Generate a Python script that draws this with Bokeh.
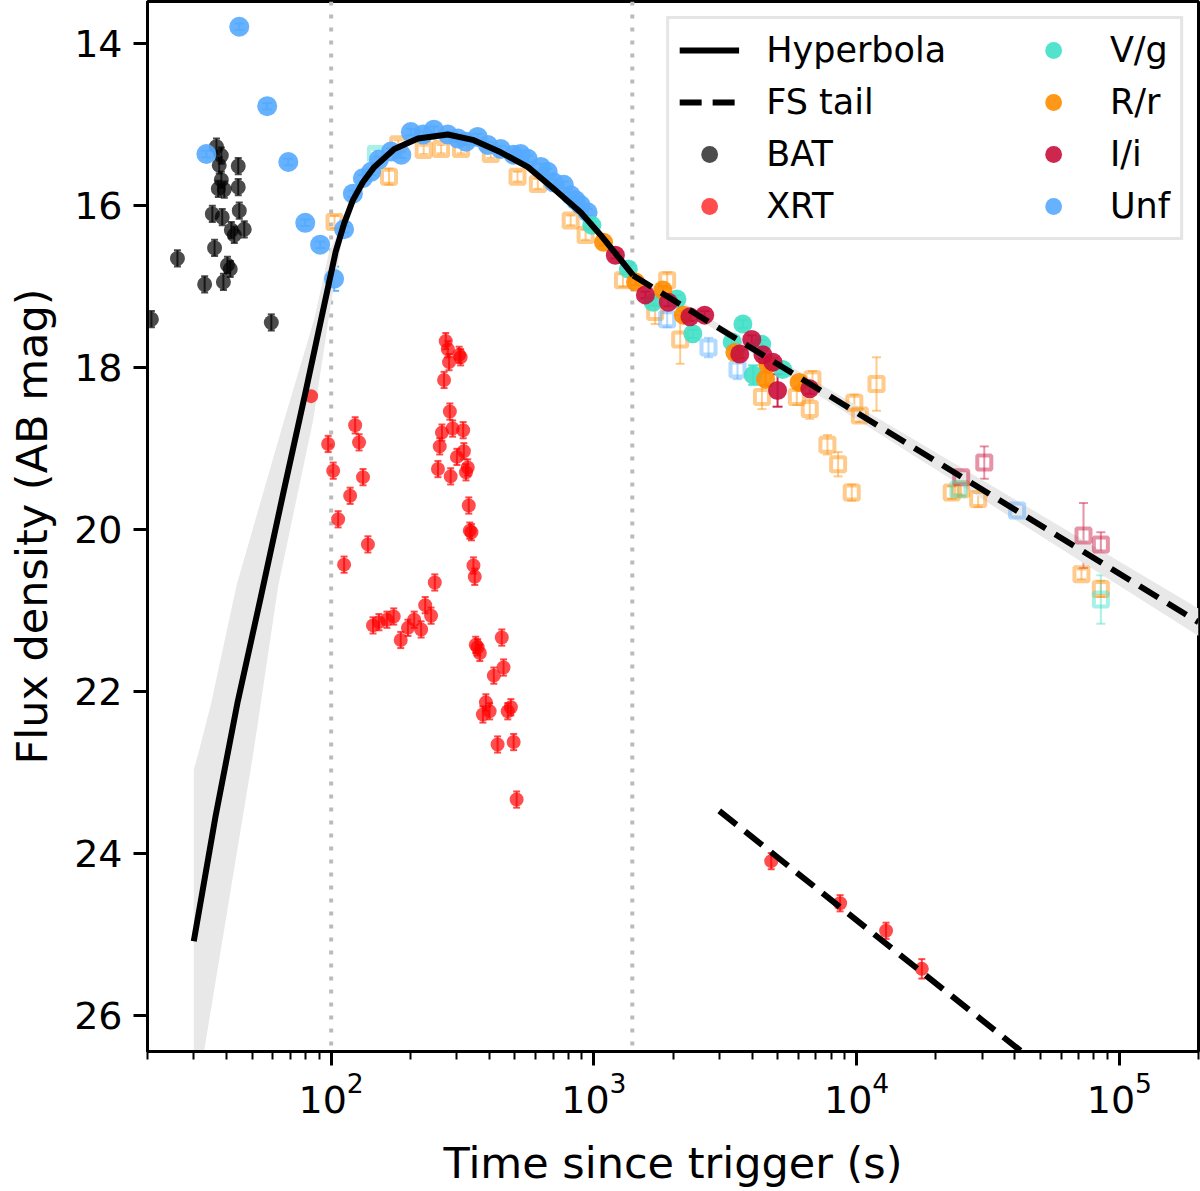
from bokeh.plotting import figure
from bokeh.models import (Range1d, FixedTicker, Span, Whisker, TeeHead, ColumnDataSource,
                          Legend, LegendItem)
from bokeh.embed import file_html
from bokeh.resources import INLINE

# ---------------- data ----------------
bat_t = [20.7, 26.0, 33.0, 35.3, 36.0, 36.6, 37.2, 37.5, 38.2, 38.2, 38.5, 38.9, 39.2, 40.3,
         41.3, 41.7, 42.8, 44.3, 44.3, 44.7, 46.7, 59.2]
bat_m = [17.40, 16.65, 16.97, 16.10, 16.52, 15.27, 15.79, 15.50, 15.38, 15.68, 16.14, 16.94,
         15.80, 16.73, 16.78, 16.30, 16.36, 15.51, 15.77, 16.06, 16.29, 17.44]
bat_e = [0.1] * len(bat_t)

xrt_t = [83.9, 97.4, 101.8, 106.3, 112, 118.1, 123.4, 127.7, 132.2, 138, 144.3, 152, 163, 173,
         184, 196, 207, 220, 228, 240, 248, 255, 259, 264, 269, 273, 278, 281, 283, 285, 290,
         301, 307, 311, 318, 320, 326, 331, 334, 337, 342, 348, 352, 355, 361, 368, 378, 388,
         401, 416, 430, 446, 453, 470, 483, 495, 508,
         4730, 8650, 12940, 17700]
xrt_m = [18.35, 18.94, 19.27, 19.87, 20.43, 19.58, 18.71, 18.92, 19.35, 20.18, 21.18, 21.14,
         21.11, 21.07, 21.36, 21.21, 21.11, 21.23, 20.93, 21.06, 20.65, 19.25, 18.97, 18.80,
         18.15, 17.67, 17.77, 17.93, 18.54, 19.34, 18.75, 19.10, 17.84, 17.87, 18.77, 19.03,
         19.29, 19.23, 19.70, 20.01, 20.03, 20.44, 20.58, 21.42, 21.45, 21.52, 22.28, 22.13,
         22.24, 21.80, 22.65, 21.33, 21.70, 22.24, 22.19, 22.62, 23.33,
         24.09, 24.61, 24.95, 25.42]
xrt_e = [0.1] * (len(xrt_t) - 1) + [0.12]

unf_t = [44.7, 57.1, 33.5, 68.7, 79.7, 90.8, 102.6, 112, 121, 132, 142, 152, 169, 185, 201,
         224, 246, 278, 304, 326, 361, 395, 442, 495, 526, 560, 628, 667, 703, 768, 816, 852,
         890, 946]
unf_m = [13.79, 14.77, 15.36, 15.46, 16.21, 16.48, 16.90, 16.29, 15.85, 15.66, 15.58, 15.43,
         15.33, 15.37, 15.09, 15.12, 15.06, 15.12, 15.17, 15.21, 15.15, 15.25, 15.30, 15.37,
         15.36, 15.42, 15.52, 15.58, 15.71, 15.74, 15.87, 15.93, 15.99, 16.08]
unf_e = [0.04] * 6 + [0.15] + [0.04] * 27

vg_t = [982, 1352, 1680, 2070, 2380, 3360, 3690, 4040, 4350, 5230]
vg_m = [16.24, 16.78, 17.19, 17.15, 17.58, 17.68, 17.46, 18.09, 17.71, 18.02]
vg_e = [0.04, 0.04, 0.05, 0.05, 0.05, 0.05, 0.05, 0.12, 0.05, 0.06]

rr_t = [1088, 1440, 1830, 2190, 3440, 4500, 4590, 6040]
rr_m = [16.45, 16.94, 17.04, 17.35, 17.81, 18.14, 17.96, 18.18]
rr_e = [0.04, 0.04, 0.05, 0.05, 0.05, 0.08, 0.05, 0.06]

ii_t = [1207, 1570, 1920, 2320, 2640, 3590, 3990, 4400, 4800, 5000, 6630]
ii_m = [16.61, 17.10, 17.19, 17.37, 17.35, 17.83, 17.65, 17.84, 17.93, 18.28, 18.26]
ii_e = [0.04, 0.04, 0.05, 0.05, 0.05, 0.05, 0.05, 0.05, 0.05, 0.2, 0.06]

# secondary (open squares)
rr2_t = [103, 166, 180, 225, 262, 312, 405, 512, 612, 816, 930, 1290, 1710, 1900, 2130, 4360,
         5920, 6630, 6790, 7740, 8500, 9580, 9800, 10280, 11900, 23000, 25000, 29000, 71700,
         85000]
rr2_m = [16.20, 15.64, 15.24, 15.31, 15.30, 15.30, 15.36, 15.64, 15.73, 16.18, 16.36, 16.92,
         17.31, 16.92, 17.65, 18.36, 18.36, 18.51, 18.14, 18.95, 19.19, 19.54, 18.43, 18.59,
         18.20, 19.54, 19.50, 19.62, 20.55, 20.73]
rr2_e = [0.08, 0.1, 0.05, 0.05, 0.05, 0.05, 0.05, 0.06, 0.06, 0.06, 0.06, 0.08, 0.15, 0.1,
         0.3, 0.15, 0.1, 0.12, 0.1, 0.12, 0.15, 0.1, 0.1, 0.08, 0.33, 0.08, 0.08, 0.1, 0.06,
         0.1]
ii2_t = [25000, 30600, 73000, 85000]
ii2_m = [19.35, 19.17, 20.07, 20.18]
ii2_e = [0.05, 0.2, 0.4, 0.15]
vg2_t = [148, 24400, 85000]
vg2_m = [15.36, 19.50, 20.86]
vg2_e = [0.05, 0.06, 0.3]
unf2_t = [1900, 2730, 3520, 40800]
unf2_m = [17.40, 17.75, 18.02, 19.76]
unf2_e = [0.1, 0.12, 0.12, 0.05]

# model curves
hyp_t = [30, 36.3, 44.1, 53.9, 65.9, 80.0, 91.2, 104.0, 112, 121, 132, 146, 174, 214, 278,
         349, 442, 560, 703, 890, 1060, 1260, 1410]
hyp_m = [25.08, 23.54, 22.12, 20.84, 19.53, 18.29, 17.43, 16.57, 16.22, 15.93, 15.71, 15.52,
         15.30, 15.17, 15.12, 15.19, 15.34, 15.52, 15.79, 16.08, 16.36, 16.66, 16.86]
hyp_band_hi_t = [30, 31.3, 35, 43.6, 66.3, 86.2, 98.2, 112]
hyp_band_hi_m = [22.96, 22.75, 22.13, 20.69, 18.64, 17.40, 16.57, 16.18]
hyp_band_lo_t = [30, 32.9, 50.6, 62.9, 85.5, 100, 112]
hyp_band_lo_m = [27.5, 26.42, 22.75, 20.69, 18.64, 17.19, 16.28]

fs_t = [1410, 200000]
fs_m = [16.86, 21.14]
fs_band_t = [1410, 200000, 200000, 1410]
fs_band_m = [16.83, 20.97, 21.31, 16.89]

xfs_t = [3000, 200000]
xfs_m = [23.47, 28.18]

vlines_t = [100, 1400]

legend_labels = ["Hyperbola", "FS tail", "BAT", "XRT", "V/g", "R/r", "I/i", "Unf"]

x_major = [1e2, 1e3, 1e4, 1e5]
x_minor = [k * 10 ** d for d in range(1, 6) for k in range(2, 10) if 20 <= k * 10 ** d <= 2e5]
y_ticks = [14, 16, 18, 20, 22, 24, 26]

# ---------------- figure ----------------
FONT = "DejaVu Sans"
p = figure(width=1200, height=1191, x_axis_type="log",
           x_range=Range1d(20, 2e5), y_range=Range1d(26.44, 13.478),
           output_backend="svg", toolbar_location=None,
           min_border_left=147, min_border_right=2, min_border_top=1, min_border_bottom=140)
p.xgrid.visible = False
p.ygrid.visible = False
p.outline_line_color = "black"
p.outline_line_width = 3
p.outline_line_alpha = 1.0
p.background_fill_color = "white"

for ax in (p.xaxis[0], p.yaxis[0]):
    ax.axis_line_width = 3
    ax.major_tick_line_width = 3
    ax.minor_tick_line_width = 2
    ax.major_tick_in = 0
    ax.major_tick_out = 14
    ax.minor_tick_in = 0
    ax.minor_tick_out = 8
    ax.major_label_text_font = FONT
    ax.major_label_text_font_size = "38px"
    ax.major_label_text_color = "black"
    ax.axis_label_text_font = FONT
    ax.axis_label_text_font_size = "43px"
    ax.axis_label_text_font_style = "normal"
    ax.axis_label_text_color = "black"

p.xaxis[0].ticker = FixedTicker(ticks=x_major, minor_ticks=x_minor)
p.yaxis[0].ticker = FixedTicker(ticks=y_ticks)
p.yaxis[0].minor_tick_line_color = None
p.xaxis[0].axis_label = "Time since trigger (s)"
p.yaxis[0].axis_label = "Flux density (AB mag)"
p.yaxis[0].major_label_standoff = 11
p.yaxis[0].axis_label_standoff = 14
p.xaxis[0].major_label_standoff = 6
p.xaxis[0].axis_label_standoff = 22

for t in vlines_t:
    p.add_layout(Span(location=t, dimension="height", line_color="#bbbbbb",
                      line_width=4, line_dash="4 9", level="underlay"))

# bands
p.patch(hyp_band_hi_t + hyp_band_lo_t[::-1], hyp_band_hi_m + hyp_band_lo_m[::-1],
        fill_color="#e8e8e8", line_color=None)
p.patch(fs_band_t, fs_band_m, fill_color="#e8e8e8", line_color=None)


def errbars(t, m, e, color, alpha, lw=2, cap=9):
    src = ColumnDataSource(dict(x=t, lo=[a - b for a, b in zip(m, e)],
                                hi=[a + b for a, b in zip(m, e)]))
    head = dict(size=cap, line_color=color, line_alpha=alpha, line_width=lw)
    w = Whisker(source=src, base="x", lower="lo", upper="hi", dimension="height",
                line_color=color, line_alpha=alpha, line_width=lw,
                upper_head=TeeHead(**head), lower_head=TeeHead(**head), level="underlay")
    p.add_layout(w)


TEAL = "#40e0c8"
ORANGE = "#ff8c00"
CRIMSON = "#c8103c"
BLUE = "#55aaff"

# open squares (secondary photometry)
for t, m, e, c in ((rr2_t, rr2_m, rr2_e, ORANGE), (ii2_t, ii2_m, ii2_e, CRIMSON),
                   (vg2_t, vg2_m, vg2_e, TEAL), (unf2_t, unf2_m, unf2_e, BLUE)):
    errbars(t, m, e, c, 0.45, lw=2, cap=9)
    p.scatter(t, m, marker="square", size=14, fill_color=None, line_color=c,
              line_alpha=0.45, line_width=4)

# filled points
errbars(bat_t, bat_m, bat_e, "black", 0.7, lw=2, cap=7)
bat_r = p.scatter(bat_t, bat_m, marker="circle", size=15, fill_color="black",
                  fill_alpha=0.7, line_color=None)
errbars(xrt_t, xrt_m, xrt_e, "red", 0.7, lw=2, cap=7)
xrt_r = p.scatter(xrt_t, xrt_m, marker="circle", size=14, fill_color="red",
                  fill_alpha=0.7, line_color=None)
errbars(unf_t, unf_m, unf_e, BLUE, 0.9, lw=2, cap=10)
unf_r = p.scatter(unf_t, unf_m, marker="circle", size=20, fill_color=BLUE,
                  fill_alpha=0.9, line_color=None)
errbars(vg_t, vg_m, vg_e, TEAL, 0.9, lw=2, cap=10)
vg_r = p.scatter(vg_t, vg_m, marker="circle", size=19, fill_color=TEAL,
                 fill_alpha=0.9, line_color=None)
errbars(rr_t, rr_m, rr_e, ORANGE, 0.9, lw=2, cap=10)
rr_r = p.scatter(rr_t, rr_m, marker="circle", size=19, fill_color=ORANGE,
                 fill_alpha=0.9, line_color=None)
errbars(ii_t, ii_m, ii_e, CRIMSON, 0.9, lw=2, cap=10)
ii_r = p.scatter(ii_t, ii_m, marker="circle", size=19, fill_color=CRIMSON,
                 fill_alpha=0.9, line_color=None)

# model lines
hyp_r = p.line(hyp_t, hyp_m, line_color="black", line_width=6, line_join="round")
fs_r = p.line(fs_t, fs_m, line_color="black", line_width=6, line_dash="22 11")
p.line(xfs_t, xfs_m, line_color="black", line_width=6, line_dash="22 11")

renderers = [hyp_r, fs_r, bat_r, xrt_r, vg_r, rr_r, ii_r, unf_r]
items = []
for i, (lab, r) in enumerate(zip(legend_labels, renderers)):
    # pad first-column labels so the second column sits further right
    items.append(LegendItem(label=lab + ("\u00a0" * 6 if i == 0 else ""), renderers=[r]))
legend = Legend(items=items, ncols=2, location="top_right")
legend.margin = 15
legend.padding = 10
legend.spacing = 10
legend.glyph_width = 60
legend.glyph_height = 42
legend.label_standoff = 27
legend.label_text_font = FONT
legend.label_text_font_size = "35px"
legend.label_text_color = "black"
legend.border_line_color = "#cccccc"
legend.border_line_width = 3
legend.background_fill_alpha = 0.85
p.add_layout(legend)

open("out.html", "w").write(file_html(p, INLINE))
